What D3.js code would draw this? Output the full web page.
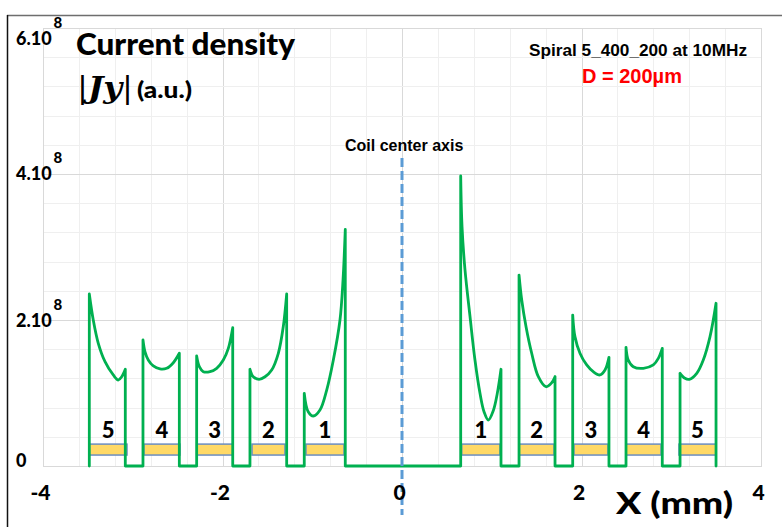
<!DOCTYPE html>
<html>
<head>
<meta charset="utf-8">
<script src="https://cdn.jsdelivr.net/npm/d3@7"></script>
<style>
  html, body { margin: 0; padding: 0; background: #ffffff; }
  svg { display: block; }
</style>
</head>
<body>
<svg id="chart" width="782" height="527"></svg>
<script>
// ---------------- DATA ----------------
// X axis ticks (mm) and Y axis ticks (units of 1e8, a.u.)
const xTicks = [-4, -2, 0, 2, 4];
const yTicks = [0, 2, 4, 6];
const yTickLabels = ["0", "2.10", "4.10", "6.10"];
const yTickExp = ["", "8", "8", "8"];

// Current density |Jy| along each conductor (x in mm, value in 1e8 a.u.)
const turnX = [
  [-3.484, -3.440, -3.384, -3.309, -3.217, -3.161, -3.123, -3.083],
  [-2.886, -2.864, -2.827, -2.771, -2.696, -2.622, -2.548, -2.481],
  [-2.288, -2.258, -2.214, -2.139, -2.065, -1.991, -1.935, -1.886],
  [-1.694, -1.657, -1.593, -1.526, -1.452, -1.378, -1.323, -1.285],
  [-1.089, -1.045, -0.988, -0.914, -0.839, -0.765, -0.691, -0.657, -0.632],
  [0.654, 0.669, 0.702, 0.758, 0.813, 0.869, 0.914, 0.962, 1.017, 1.062, 1.103],
  [1.304, 1.334, 1.382, 1.445, 1.519, 1.604, 1.668, 1.705],
  [1.902, 1.927, 1.983, 2.058, 2.131, 2.206, 2.262, 2.306],
  [2.496, 2.521, 2.577, 2.689, 2.800, 2.856, 2.900],
  [3.098, 3.153, 3.201, 3.284, 3.357, 3.432, 3.499]
];
const turnJy = [
  [2.356, 2.000, 1.681, 1.429, 1.247, 1.178, 1.223, 1.325],
  [1.726, 1.566, 1.452, 1.370, 1.329, 1.338, 1.415, 1.544],
  [1.507, 1.360, 1.292, 1.292, 1.338, 1.452, 1.612, 1.895],
  [1.325, 1.223, 1.188, 1.223, 1.315, 1.544, 1.908, 2.356],
  [0.996, 0.744, 0.685, 0.767, 1.041, 1.452, 2.000, 2.550, 3.240],
  [3.973, 3.278, 2.685, 2.045, 1.452, 0.996, 0.744, 0.630, 0.758, 0.996, 1.325],
  [2.616, 2.274, 1.908, 1.544, 1.223, 1.086, 1.141, 1.223],
  [2.068, 1.772, 1.544, 1.384, 1.292, 1.247, 1.315, 1.489],
  [1.626, 1.452, 1.360, 1.338, 1.384, 1.475, 1.612],
  [1.270, 1.201, 1.188, 1.270, 1.452, 1.772, 2.229]
];

// Conductor cross-sections (mm) and turn numbers
const condX0 = [-3.484, -2.875, -2.288, -1.671, -1.070, 0.665, 1.304, 1.916, 2.496, 3.086];
const condX1 = [-3.064, -2.474, -1.886, -1.304, -0.646, 1.092, 1.694, 2.295, 2.886, 3.499];
const condLabel = ["5", "4", "3", "2", "1", "1", "2", "3", "4", "5"];

// ---------------- DRAWING ----------------
const svg = d3.select("#chart");
const x = d3.scaleLinear().domain([-4, 4]).range([43, 761]);
const y = d3.scaleLinear().domain([0, 6]).range([466, 28]);

const calibri = "Lato, 'Open Sans', sans-serif";
const arial = "'Liberation Sans', Arial, sans-serif";

// outer frame
svg.append("line").attr("x1", 7).attr("x2", 782).attr("y1", 15.5).attr("y2", 15.5)
  .attr("stroke", "#6e6e6e").attr("stroke-width", 1.5);
svg.append("line").attr("x1", 7.5).attr("x2", 7.5).attr("y1", 15).attr("y2", 527)
  .attr("stroke", "#111").attr("stroke-width", 1.5);

// gridlines
const gx = d3.range(-4, 4.0001, 0.4);
const gy = d3.range(0, 6.0001, 0.4);
const isMajor = v => Math.abs(v / 2 - Math.round(v / 2)) < 1e-6;
const grid = svg.append("g");
grid.selectAll("line.gx").data(gx).enter().append("line")
  .attr("x1", d => Math.round(x(d)) + 0.5).attr("x2", d => Math.round(x(d)) + 0.5)
  .attr("y1", y(6)).attr("y2", y(0))
  .attr("stroke", d => isMajor(d) ? "#d9d9d9" : "#efefef").attr("stroke-width", 1);
grid.selectAll("line.gy").data(gy).enter().append("line")
  .attr("y1", d => Math.round(y(d)) + 0.5).attr("y2", d => Math.round(y(d)) + 0.5)
  .attr("x1", x(-4)).attr("x2", x(4))
  .attr("stroke", d => isMajor(d) ? "#d9d9d9" : "#efefef").attr("stroke-width", 1);
svg.append("rect").attr("x", x(-4) + 0.5).attr("y", y(6) + 0.5)
  .attr("width", x(4) - x(-4)).attr("height", y(0) - y(6))
  .attr("fill", "none").attr("stroke", "#d9d9d9").attr("stroke-width", 1);

// conductors
const rectTop = 0.30, rectBot = 0.15;
svg.append("g").selectAll("rect").data(condX0).enter().append("rect")
  .attr("x", d => x(d)).attr("width", (d, i) => x(condX1[i]) - x(d))
  .attr("y", y(rectTop)).attr("height", y(rectBot) - y(rectTop))
  .attr("fill", "#FFD966").attr("stroke", "#6C8DC0").attr("stroke-width", 1.5);
svg.append("g").selectAll("text").data(condLabel).enter().append("text")
  .attr("x", (d, i) => (x(condX0[i]) + x(condX1[i])) / 2)
  .attr("y", y(rectTop) - 6)
  .attr("text-anchor", "middle")
  .attr("font-family", calibri).attr("font-weight", 900).attr("font-size", 22)
  .attr("fill", "#000").text(d => d);

// current density line
const ctx = d3.path();
const lin = d3.line().x(d => x(d[0])).y(d => y(d[1])).context(ctx);
const smooth = d3.line().x(d => x(d[0])).y(d => y(d[1]))
  .curve(d3.curveCatmullRom.alpha(0.5)).context(ctx);
let prevX = null;
turnX.forEach((xs, i) => {
  const ys = turnJy[i];
  const x0 = xs[0], x1 = xs[xs.length - 1];
  const rise = prevX === null ? [[x0, 0], [x0, ys[0]]] : [[prevX, 0], [x0, 0], [x0, ys[0]]];
  lin(rise);
  smooth(xs.map((v, k) => [v, ys[k]]));
  lin([[x1, ys[ys.length - 1]], [x1, 0]]);
  prevX = x1;
});
svg.append("path").attr("d", ctx.toString())
  .attr("fill", "none").attr("stroke", "#00B050").attr("stroke-width", 2.8)
  .attr("stroke-linejoin", "round").attr("stroke-linecap", "round");

// coil center axis
svg.append("line").attr("x1", x(0)).attr("x2", x(0)).attr("y1", 158).attr("y2", 515)
  .attr("stroke", "#5B9BD5").attr("stroke-width", 3).attr("stroke-dasharray", "9,4");
svg.append("text").attr("x", 345).attr("y", 151)
  .attr("font-family", arial).attr("font-weight", 700).attr("font-size", 16)
  .attr("fill", "#000").text("Coil center axis");

// x axis tick labels
const xAxis = d3.axisBottom(x).tickValues(xTicks).tickSize(0).tickPadding(0)
  .tickFormat(d3.format("d"));
const xg = svg.append("g").attr("transform", `translate(-3, 485)`).call(xAxis);
xg.select(".domain").remove();
xg.selectAll("text").attr("dy", "0.72em")
  .attr("font-family", calibri).attr("font-weight", 900).attr("font-size", 21).attr("fill", "#000")
  .text(d => d < 0 ? "-" + Math.abs(d) : String(d));

// y axis tick labels
const yNudge = [1, 7, 6, 17];
const yl = svg.append("g").selectAll("text").data(yTicks).enter().append("text")
  .attr("x", 16).attr("y", (d, i) => y(d) + yNudge[i])
  .attr("font-family", calibri).attr("font-weight", 900).attr("font-size", 18).attr("fill", "#000");
yl.append("tspan").text((d, i) => yTickLabels[i]);
yl.append("tspan").attr("dx", 2).attr("dy", -17).attr("font-size", 15).text((d, i) => yTickExp[i]);

// titles
svg.append("text").attr("x", 76).attr("y", 55)
  .attr("font-family", calibri).attr("font-weight", 900).attr("font-size", 31)
  .attr("fill", "#000").attr("textLength", 219).attr("lengthAdjust", "spacingAndGlyphs")
  .text("Current density");
const jt = svg.append("text").attr("x", 77).attr("y", 98)
  .attr("font-family", "'DejaVu Serif', serif").attr("font-size", 30).attr("fill", "#000")
  .attr("textLength", 56).attr("lengthAdjust", "spacingAndGlyphs");
jt.append("tspan").text("|");
jt.append("tspan").attr("font-style", "italic").attr("font-weight", 700).attr("font-size", 30).text("Jy");
jt.append("tspan").text("|");
svg.append("text").attr("x", 137).attr("y", 98)
  .attr("font-family", calibri).attr("font-weight", 900).attr("font-size", 22)
  .attr("fill", "#000").attr("textLength", 55).attr("lengthAdjust", "spacingAndGlyphs")
  .text("(a.u.)");

svg.append("text").attr("x", 638).attr("y", 56).attr("text-anchor", "middle")
  .attr("font-family", arial).attr("font-weight", 700).attr("font-size", 16)
  .attr("fill", "#000").attr("textLength", 218).attr("lengthAdjust", "spacingAndGlyphs")
  .text("Spiral 5_400_200 at 10MHz");
svg.append("text").attr("x", 582).attr("y", 83)
  .attr("font-family", arial).attr("font-weight", 700).attr("font-size", 20)
  .attr("fill", "#FF0000").text("D = 200µm");

svg.append("text").attr("x", 616).attr("y", 514)
  .attr("font-family", calibri).attr("font-weight", 900).attr("font-size", 31)
  .attr("fill", "#000").attr("textLength", 117).attr("lengthAdjust", "spacingAndGlyphs")
  .text("X (mm)");
</script>
</body>
</html>
